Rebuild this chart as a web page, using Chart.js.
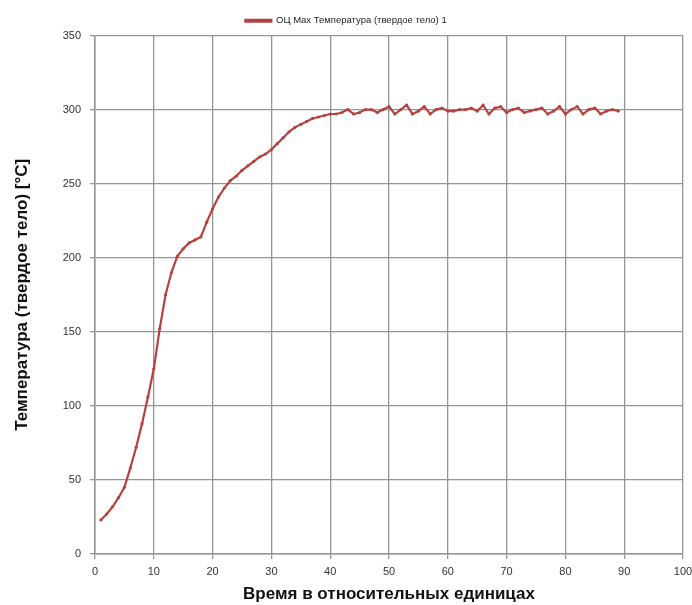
<!DOCTYPE html>
<html>
<head>
<meta charset="utf-8">
<script src="https://cdn.jsdelivr.net/npm/chart.js@4/dist/chart.umd.min.js"></script>
<style>
  html, body { margin: 0; padding: 0; background: #fff; }
  #wrap { width: 692px; height: 605px; }
</style>
</head>
<body>
<div id="wrap"><canvas id="tempChart" width="692" height="605"></canvas></div>
<script>
const seriesLabel = 'ОЦ Max Температура (твердое тело) 1';
const xTitle = 'Время в относительных единицах';
const yTitle = 'Температура (твердое тело) [°C]';

// time steps 1..89
const timeSteps = [
  1, 2, 3, 4, 5, 6, 7, 8, 9, 10,
  11, 12, 13, 14, 15, 16, 17, 18, 19, 20,
  21, 22, 23, 24, 25, 26, 27, 28, 29, 30,
  31, 32, 33, 34, 35, 36, 37, 38, 39, 40,
  41, 42, 43, 44, 45, 46, 47, 48, 49, 50,
  51, 52, 53, 54, 55, 56, 57, 58, 59, 60,
  61, 62, 63, 64, 65, 66, 67, 68, 69, 70,
  71, 72, 73, 74, 75, 76, 77, 78, 79, 80,
  81, 82, 83, 84, 85, 86, 87, 88, 89
];
const tempValues = [
  23, 27, 32, 38, 45, 58, 72, 88, 106, 125,
  152, 175, 190, 201, 206, 210, 212, 214, 224, 233,
  241, 247, 252, 255, 259, 262, 265, 268, 270, 273,
  277, 281, 285, 288, 290, 292, 294, 295, 296, 297,
  297, 298, 300, 297, 298, 300, 300, 298, 300, 302,
  297, 300, 303, 297, 299, 302, 297, 300, 301, 299,
  299, 300, 300, 301, 299, 303, 297, 301, 302, 298,
  300, 301, 298, 299, 300, 301, 297, 299, 302, 297,
  300, 302, 297, 300, 301, 297, 299, 300, 299
];

const lineColor = '#b5423f';
const gridColor = '#959595';
const tickFont = { family: "'Liberation Sans', Arial, sans-serif", size: 11 };
const titleFont = { family: "'Liberation Sans', Arial, sans-serif", size: 17, weight: 'bold' };

const points = timeSteps.map((t, i) => ({ x: t, y: tempValues[i] }));

new Chart(document.getElementById('tempChart'), {
  type: 'line',
  data: {
    datasets: [{
      label: seriesLabel,
      data: points,
      borderColor: lineColor,
      backgroundColor: lineColor,
      borderWidth: 2.2,
      pointRadius: 1.6,
      pointBorderWidth: 0,
      pointBackgroundColor: lineColor,
      tension: 0
    }]
  },
  options: {
    responsive: false,
    animation: false,
    layout: { padding: { top: 6, right: 0, left: 0, bottom: 0 } },
    plugins: {
      legend: {
        position: 'top',
        labels: {
          color: '#222',
          font: { family: "'Liberation Sans', Arial, sans-serif", size: 9.5 },
          boxWidth: 26,
          boxHeight: 2,
          padding: 10
        }
      },
      tooltip: { enabled: false }
    },
    scales: {
      x: {
        type: 'linear',
        min: 0,
        max: 100,
        ticks: { stepSize: 10, color: '#333', font: tickFont, padding: 6, maxRotation: 0 },
        grid: { color: gridColor, lineWidth: 1.3, tickLength: 5, tickColor: gridColor },
        border: { color: gridColor, width: 1.5 },
        title: { display: true, text: xTitle, color: '#111', font: titleFont, padding: { top: 3, bottom: 0 } },
        afterFit: s => { s.height = 51; s.paddingRight = 9; }
      },
      y: {
        min: 0,
        max: 350,
        ticks: { stepSize: 50, color: '#333', font: tickFont, padding: 9 },
        grid: { color: gridColor, lineWidth: 1.3, tickLength: 5, tickColor: gridColor },
        border: { color: gridColor, width: 1.5 },
        title: { display: true, text: yTitle, color: '#111', font: titleFont, padding: { top: 12, bottom: 0 } },
        afterFit: s => { s.width = 95; }
      }
    }
  }
});
</script>
</body>
</html>
